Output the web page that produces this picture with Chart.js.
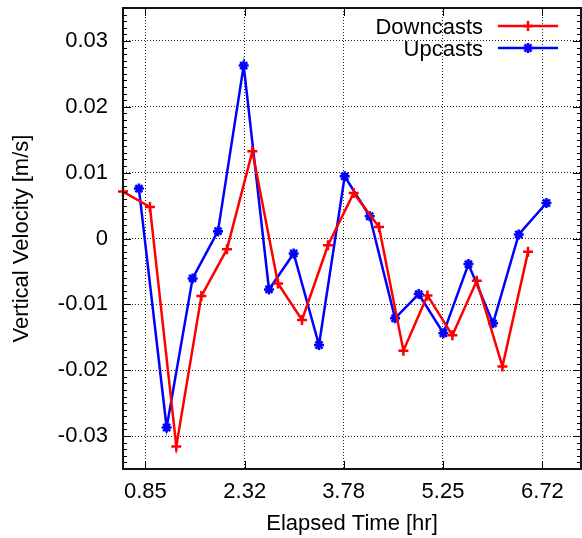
<!DOCTYPE html>
<html>
<head>
<meta charset="utf-8">
<script src="https://cdn.jsdelivr.net/npm/chart.js@4/dist/chart.umd.min.js"></script>
<style>
html,body{margin:0;padding:0;background:#fff;}
#wrap{width:582px;height:538px;position:relative;}
</style>
</head>
<body>
<div id="wrap"><canvas id="c" width="582" height="538"></canvas></div>
<script>
// ---- data ----
const downTime = [0.52, 0.918, 1.308, 1.678, 2.057, 2.432, 2.811, 3.166, 3.550, 3.930, 4.304, 4.665, 5.020, 5.389, 5.749, 6.129, 6.507];
const downVel  = [0.00712, 0.00479, -0.03158, -0.00874, -0.00162, 0.01323, -0.00682, -0.01238, -0.00102, 0.00691, 0.00176, -0.01703, -0.00864, -0.01470, -0.00642, -0.01945, -0.00203];
const upTime   = [0.755, 1.165, 1.549, 1.924, 2.304, 2.678, 3.043, 3.417, 3.797, 4.167, 4.541, 4.891, 5.256, 5.626, 5.990, 6.370, 6.779];
const upVel    = [0.00758, -0.02870, -0.00606, 0.00111, 0.02626, -0.00773, -0.00227, -0.01617, 0.00944, 0.00338, -0.01212, -0.00844, -0.01439, -0.00389, -0.01288, 0.00061, 0.00539];
const xTicks   = [0.85, 2.32, 3.78, 5.25, 6.72];
const yTicks   = [-0.03, -0.02, -0.01, 0, 0.01, 0.02, 0.03];
const seriesNames = ['Downcasts', 'Upcasts'];

const FONT = 'Liberation Sans, Arial, Helvetica, sans-serif';
const FS = 22;

const toPts = (xs, ys) => xs.map((x, i) => ({x: x, y: ys[i]}));

const noPad = s => { s.paddingTop = 0; s.paddingBottom = 0; s.paddingLeft = 0; s.paddingRight = 0; };

const framePlugin = {
  id: 'frame',
  afterDatasetsDraw(chart) {
    const ctx = chart.ctx, a = chart.chartArea;
    const xs = chart.scales.x, ys = chart.scales.y;
    ctx.save();
    ctx.strokeStyle = '#000';
    ctx.lineWidth = 1;
    // major x ticks (bottom & top)
    xTicks.forEach(v => {
      const px = Math.round(xs.getPixelForValue(v)) + 0.5;
      ctx.beginPath();
      ctx.moveTo(px, a.bottom); ctx.lineTo(px, a.bottom - 8);
      ctx.moveTo(px, a.top); ctx.lineTo(px, a.top + 8);
      ctx.stroke();
    });
    // y ticks major + minor (left & right)
    for (let k = -35; k <= 35; k++) {
      const v = k / 1000;
      const py = Math.round(ys.getPixelForValue(v)) + 0.5;
      const len = (k % 10 === 0) ? 8 : 4;
      ctx.beginPath();
      ctx.moveTo(a.left, py); ctx.lineTo(a.left + len, py);
      ctx.moveTo(a.right, py); ctx.lineTo(a.right - len, py);
      ctx.stroke();
    }
    // frame
    ctx.lineWidth = 2;
    ctx.strokeStyle = '#111';
    ctx.strokeRect(a.left, a.top, a.right - a.left, a.bottom - a.top);
    // legend (gnuplot style: text then sample)
    ctx.font = FS + 'px ' + FONT;
    ctx.textAlign = 'right';
    ctx.textBaseline = 'middle';
    const rows = [26, 48];
    chart.data.datasets.forEach((ds, i) => {
      const y = rows[i];
      ctx.fillStyle = '#000';
      ctx.fillText(ds.label, 483, y + 1.5);
      ctx.strokeStyle = ds.borderColor;
      ctx.lineWidth = 2.5;
      ctx.beginPath(); ctx.moveTo(498, y); ctx.lineTo(558, y); ctx.stroke();
      Chart.helpers.drawPoint(ctx, {pointStyle: ds.pointStyle, rotation: 0, radius: ds.pointRadius, borderWidth: ds.pointBorderWidth}, 528, y);
    });
    ctx.restore();
  }
};

new Chart(document.getElementById('c'), {
  type: 'line',
  data: {
    datasets: [
      {label: seriesNames[0], data: toPts(downTime, downVel), borderColor: '#ff0000', backgroundColor: '#ff0000',
       borderWidth: 2.5, pointStyle: 'cross', pointRadius: 5, pointBorderWidth: 2.5, pointBorderColor: '#ff0000', tension: 0, clip: false},
      {label: seriesNames[1], data: toPts(upTime, upVel), borderColor: '#0000ff', backgroundColor: '#0000ff',
       borderWidth: 2.5, pointStyle: 'star', pointRadius: 5, pointBorderWidth: 2.5, pointBorderColor: '#0000ff', tension: 0, clip: false}
    ]
  },
  options: {
    responsive: false,
    animation: false,
    layout: {autoPadding: false, padding: {top: 8, right: 1, left: 0, bottom: 0}},
    plugins: {legend: {display: false}, tooltip: {enabled: false}},
    scales: {
      x: {
        type: 'linear', min: 0.52, max: 7.29,
        afterBuildTicks: s => { s.ticks = xTicks.map(v => ({value: v})); },
        afterFit: s => { s.height = 69; noPad(s); },
        ticks: {color: '#000', font: {family: FONT, size: FS}, padding: 10, maxRotation: 0,
                callback: v => v.toFixed(2)},
        grid: {color: '#222', lineWidth: 1, drawTicks: false},
        border: {display: false, dash: [1, 2]},
        title: {display: true, text: 'Elapsed Time [hr]', color: '#000', font: {family: FONT, size: FS, lineHeight: 0.95}}
      },
      y: {
        type: 'linear', min: -0.035, max: 0.035,
        afterBuildTicks: s => { s.ticks = yTicks.map(v => ({value: v})); },
        afterFit: s => { s.width = 123; noPad(s); },
        ticks: {color: '#000', font: {family: FONT, size: FS}, padding: 15,
                callback: v => Math.abs(v) < 1e-9 ? '0' : v.toFixed(2)},
        grid: {color: '#222', lineWidth: 1, drawTicks: false},
        border: {display: false, dash: [1, 2]},
        title: {display: true, text: 'Vertical Velocity [m/s]', color: '#000', font: {family: FONT, size: FS, lineHeight: 1.65}}
      }
    }
  },
  plugins: [framePlugin]
});
</script>
</body>
</html>
